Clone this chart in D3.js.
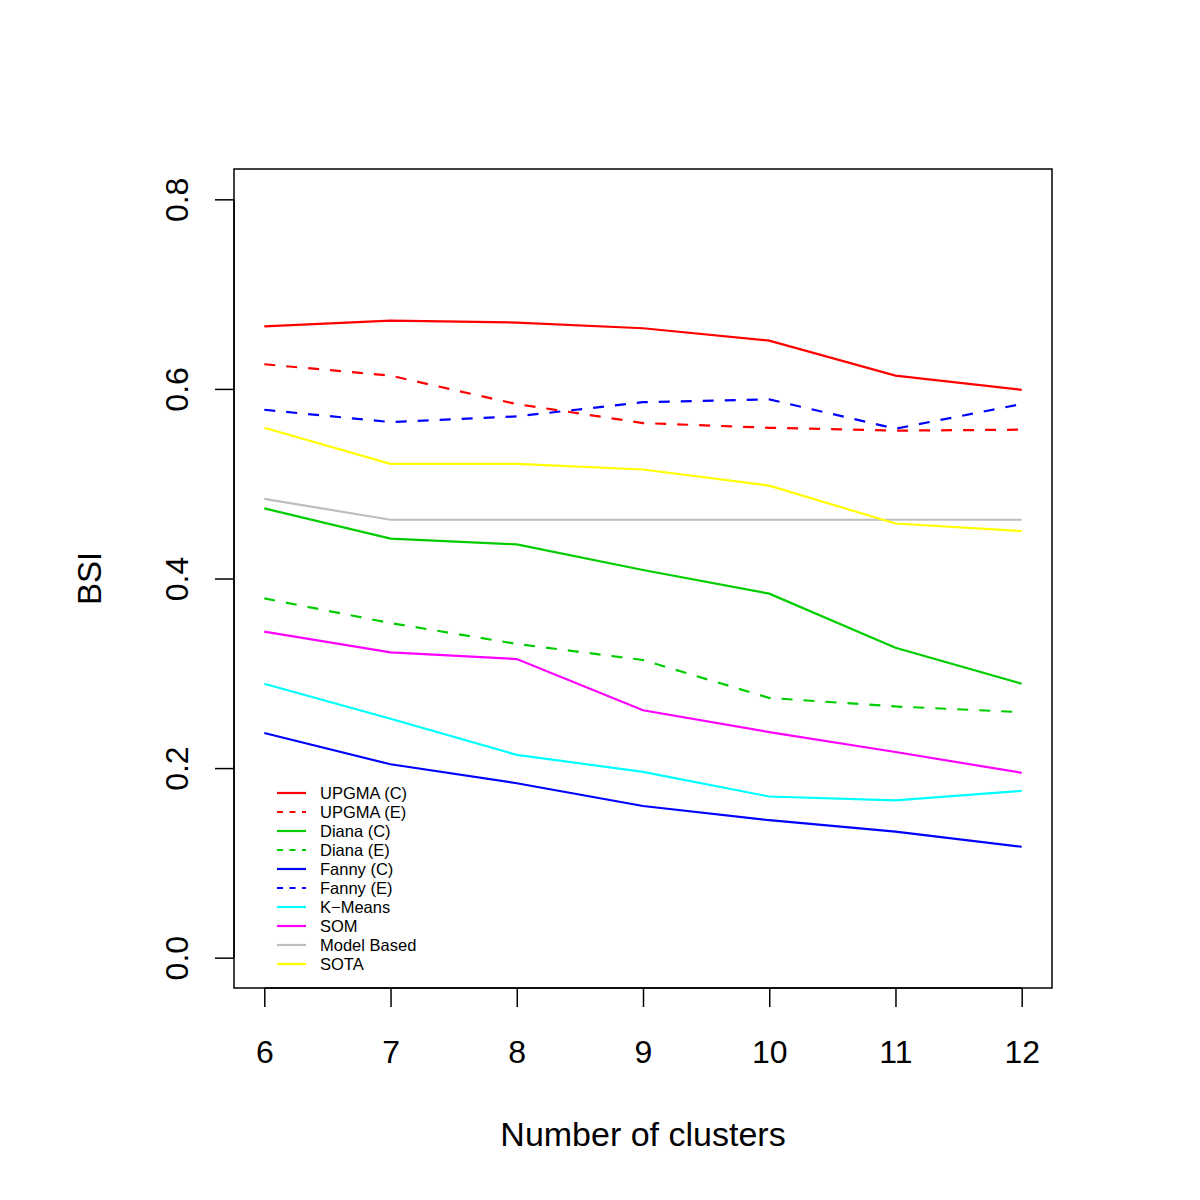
<!DOCTYPE html>
<html>
<head>
<meta charset="utf-8">
<script src="https://cdn.jsdelivr.net/npm/d3@7"></script>
<style>
  body { margin: 0; background: #fff; }
  svg { font-family: "Liberation Sans", Arial, sans-serif; }
</style>
</head>
<body>
<svg width="1200" height="1200"></svg>
<script>
// number of clusters on the x axis
var clusters = [6, 7, 8, 9, 10, 11, 12];
var yTicks = [0.0, 0.2, 0.4, 0.6, 0.8];

// BSI values
var upgmaC = [0.666, 0.672, 0.670, 0.664, 0.651, 0.614, 0.599];
var upgmaE = [0.626, 0.614, 0.584, 0.564, 0.559, 0.556, 0.557];
var dianaC = [0.474, 0.442, 0.436, 0.409, 0.384, 0.327, 0.289];
var dianaE = [0.379, 0.353, 0.331, 0.314, 0.274, 0.265, 0.259];
var fannyC = [0.237, 0.204, 0.184, 0.160, 0.145, 0.133, 0.117];
var fannyE = [0.578, 0.565, 0.571, 0.586, 0.589, 0.558, 0.584];
var kMeans = [0.289, 0.252, 0.214, 0.196, 0.170, 0.166, 0.176];
var som = [0.344, 0.322, 0.315, 0.261, 0.238, 0.217, 0.195];
var modelBased = [0.484, 0.462, 0.462, 0.462, 0.462, 0.462, 0.462];
var sota = [0.559, 0.521, 0.521, 0.515, 0.498, 0.458, 0.450];

var seriesNames = ["UPGMA (C)", "UPGMA (E)", "Diana (C)", "Diana (E)", "Fanny (C)",
                   "Fanny (E)", "K\u2212Means", "SOM", "Model Based", "SOTA"];
var seriesValues = [upgmaC, upgmaE, dianaC, dianaE, fannyC, fannyE, kMeans, som, modelBased, sota];
var seriesColors = ["#ff0000", "#ff0000", "#00cd00", "#00cd00", "#0000ff",
                    "#0000ff", "#00ffff", "#ff00ff", "#bebebe", "#ffff00"];
var seriesDashed = [false, true, false, true, false, true, false, false, false, false];

document.addEventListener('DOMContentLoaded', function () {
    const svg = d3.select('svg');

    // plot box like R: 4% padding on both axes
    const box = { left: 234, right: 1052, top: 169, bottom: 988 };

    const xScale = d3.scaleLinear()
        .domain([5.76, 12.24])
        .range([box.left, box.right]);
    const yScale = d3.scaleLinear()
        .domain([-0.032, 0.832])
        .range([box.bottom, box.top]);

    // x axis
    const xAxis = d3.axisBottom(xScale)
        .tickValues(clusters)
        .tickFormat(d3.format('d'))
        .tickSize(19)
        .tickPadding(33);
    const gx = svg.append('g')
        .attr('transform', `translate(0,${box.bottom})`)
        .call(xAxis);
    gx.select('.domain').remove();
    gx.append('line')
        .attr('x1', xScale(6)).attr('x2', xScale(12))
        .attr('stroke', '#000').attr('stroke-width', 1.5);
    gx.selectAll('.tick line').attr('stroke', '#000').attr('stroke-width', 1.5);
    gx.selectAll('.tick text')
        .attr('fill', '#000')
        .style('font-size', '32px')
        .attr('dy', '0.71em');

    // y axis with vertical labels
    const yAxis = d3.axisLeft(yScale)
        .tickValues(yTicks)
        .tickFormat(d3.format('.1f'))
        .tickSize(19);
    const gy = svg.append('g')
        .attr('transform', `translate(${box.left},0)`)
        .call(yAxis);
    gy.select('.domain').remove();
    gy.append('line')
        .attr('y1', yScale(0)).attr('y2', yScale(0.8))
        .attr('stroke', '#000').attr('stroke-width', 1.5);
    gy.selectAll('.tick line').attr('stroke', '#000').attr('stroke-width', 1.5);
    gy.selectAll('.tick text')
        .attr('fill', '#000')
        .style('font-size', '32px')
        .attr('x', null)
        .attr('text-anchor', 'middle')
        .attr('transform', 'translate(-57,0) rotate(-90)')
        .attr('dy', '0.35em');

    // box
    svg.append('rect')
        .attr('x', box.left).attr('y', box.top)
        .attr('width', box.right - box.left)
        .attr('height', box.bottom - box.top)
        .attr('fill', 'none')
        .attr('stroke', '#000')
        .attr('stroke-width', 1.5);

    // axis titles
    svg.append('text')
        .attr('x', (box.left + box.right) / 2)
        .attr('y', 1146)
        .attr('text-anchor', 'middle')
        .style('font-size', '34px')
        .text('Number of clusters');
    svg.append('text')
        .attr('transform', `translate(101,${(box.top + box.bottom) / 2}) rotate(-90)`)
        .attr('text-anchor', 'middle')
        .style('font-size', '33px')
        .text('BSI');

    // the lines
    const line = d3.line()
        .x(function (d, i) { return xScale(clusters[i]); })
        .y(function (d) { return yScale(d); });

    svg.append('g').selectAll('path')
        .data(seriesValues)
        .join('path')
        .attr('fill', 'none')
        .attr('stroke', (d, i) => seriesColors[i])
        .attr('stroke-width', 2.2)
        .attr('stroke-dasharray', (d, i) => seriesDashed[i] ? '11,11' : null)
        .attr('d', line);

    // legend (no frame)
    const legend = svg.append('g');
    const rowH = 19;
    seriesNames.forEach(function (name, i) {
        const y = 793 + i * rowH;
        legend.append('line')
            .attr('x1', 277).attr('x2', 306)
            .attr('y1', y).attr('y2', y)
            .attr('stroke', seriesColors[i])
            .attr('stroke-width', 2.2)
            .attr('stroke-dasharray', seriesDashed[i] ? '6,6.5' : null);
        legend.append('text')
            .attr('x', 320).attr('y', y)
            .attr('dy', '0.35em')
            .style('font-size', '16.5px')
            .text(name);
    });
});
</script>
</body>
</html>
